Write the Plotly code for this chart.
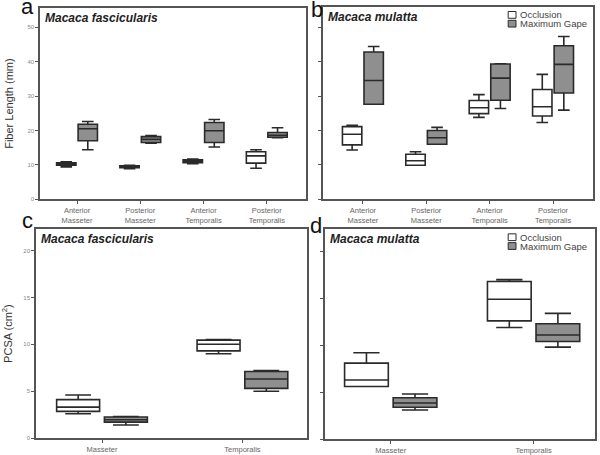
import plotly.graph_objects as go

# muscle categories
cats_fl = ["Anterior<br>Masseter", "Posterior<br>Masseter", "Anterior<br>Temporalis", "Posterior<br>Temporalis"]
cats_pcsa = ["Masseter", "Temporalis"]
groups = ["Occlusion", "Maximum Gape"]

# each row: [min, q1, median, q3, max]
fasc_fl_occ = [[9.4, 9.9, 10.3, 10.6, 10.9], [8.9, 9.2, 9.5, 9.7, 9.9],
               [10.3, 10.6, 11.0, 11.5, 11.7], [9.0, 10.5, 12.6, 13.8, 14.4]]
fasc_fl_gape = [[14.4, 17.0, 20.5, 21.8, 22.6], [16.3, 16.5, 17.4, 18.2, 18.5],
                [15.2, 16.5, 19.9, 22.3, 23.2], [17.9, 18.0, 18.6, 19.4, 20.8]]
mul_fl_occ = [[14.3, 15.8, 18.9, 21.1, 21.5], [9.9, 9.9, 11.2, 13.1, 13.8],
              [23.8, 24.9, 26.6, 28.7, 30.4], [22.3, 24.2, 26.9, 31.9, 36.3]]
mul_fl_gape = [[27.6, 27.6, 34.5, 42.8, 44.4], [16.0, 16.0, 17.9, 20.0, 20.9],
               [26.4, 28.8, 35.2, 39.3, 39.4], [25.9, 30.9, 39.2, 44.6, 47.3]]
fasc_pcsa_occ = [[2.6, 2.85, 3.3, 4.1, 4.6], [9.0, 9.3, 10.0, 10.45, 10.5]]
fasc_pcsa_gape = [[1.4, 1.7, 1.95, 2.25, 2.3], [5.0, 5.3, 6.3, 7.1, 7.2]]
mul_pcsa_occ = [[5.6, 5.6, 6.3, 8.1, 9.2], [11.9, 12.6, 14.9, 16.8, 17.0]]
mul_pcsa_gape = [[3.1, 3.4, 3.85, 4.4, 4.8], [9.8, 10.4, 11.1, 12.3, 13.4]]

OCC_FILL = "#ffffff"
GAPE_FILL = "#8f8f8f"
LINE = "#2a2a2a"
AXIS = "#555555"
FONT = "Liberation Sans, Arial, sans-serif"


def box(cats, stats, name, fill, xa, ya):
    return go.Box(
        x=cats, name=name,
        lowerfence=[s[0] for s in stats], q1=[s[1] for s in stats],
        median=[s[2] for s in stats], q3=[s[3] for s in stats],
        upperfence=[s[4] for s in stats],
        fillcolor=fill, line=dict(color=LINE, width=1.6),
        whiskerwidth=0.6, boxpoints=False,
        xaxis=xa, yaxis=ya, offsetgroup=name,
        showlegend=False, hoverinfo="skip")


fig = go.Figure()
fig.add_trace(box(cats_fl, fasc_fl_occ, groups[0], OCC_FILL, "x", "y"))
fig.add_trace(box(cats_fl, fasc_fl_gape, groups[1], GAPE_FILL, "x", "y"))
fig.add_trace(box(cats_fl, mul_fl_occ, groups[0], OCC_FILL, "x2", "y2"))
fig.add_trace(box(cats_fl, mul_fl_gape, groups[1], GAPE_FILL, "x2", "y2"))
fig.add_trace(box(cats_pcsa, fasc_pcsa_occ, groups[0], OCC_FILL, "x3", "y3"))
fig.add_trace(box(cats_pcsa, fasc_pcsa_gape, groups[1], GAPE_FILL, "x3", "y3"))
fig.add_trace(box(cats_pcsa, mul_pcsa_occ, groups[0], OCC_FILL, "x4", "y4"))
fig.add_trace(box(cats_pcsa, mul_pcsa_gape, groups[1], GAPE_FILL, "x4", "y4"))

xcommon = dict(type="category", showline=True, linecolor=AXIS, linewidth=1.5, mirror=True,
               ticks="outside", ticklen=3, tickcolor=AXIS, showgrid=False, zeroline=False,
               tickfont=dict(size=7.5, color="#666666", family=FONT))
ycommon = dict(showline=True, linecolor=AXIS, linewidth=1.5, mirror=True,
               ticks="outside", ticklen=3, tickcolor=AXIS, showgrid=False, zeroline=False,
               tickfont=dict(size=6, color="#888888", family=FONT))
ytitle_font = dict(size=11, color="#333333", family=FONT)

fig.update_layout(
    width=600, height=455, margin=dict(l=0, r=0, t=0, b=0),
    paper_bgcolor="white", plot_bgcolor="white",
    font=dict(family=FONT, color="#222222"),
    boxmode="group", boxgap=0.32, boxgroupgap=0.1, showlegend=False,
    xaxis=dict(xcommon, domain=[0.0667, 0.51], anchor="y", range=[-0.585, 3.62]),
    yaxis=dict(ycommon, domain=[0.5582, 0.9824], anchor="x", range=[0, 55.6], dtick=10,
               title=dict(text="Fiber Length (mm)", font=ytitle_font, standoff=12)),
    xaxis2=dict(xcommon, domain=[0.5383, 0.9883], anchor="y2", range=[-0.63, 3.63]),
    yaxis2=dict(ycommon, domain=[0.5582, 0.9846], anchor="x2", range=[0, 55.9], dtick=10,
                showticklabels=False),
    xaxis3=dict(xcommon, domain=[0.06, 0.5117], anchor="y3", range=[-0.47, 1.46]),
    yaxis3=dict(ycommon, domain=[0.0286, 0.4923], anchor="x3", range=[0, 22.3], dtick=5,
                title=dict(text="PCSA (cm<sup>2</sup>)", font=ytitle_font, standoff=12)),
    xaxis4=dict(xcommon, domain=[0.5417, 0.9917], anchor="y4", range=[-0.46, 1.43]),
    yaxis4=dict(ycommon, domain=[0.0264, 0.4923], anchor="x4", range=[0, 22.4], dtick=5,
                showticklabels=False),
)

# panel letters
for txt, x, y in [("a", 0.046, 0.985), ("b", 0.528, 0.978), ("c", 0.046, 0.51), ("d", 0.527, 0.5)]:
    fig.add_annotation(text=txt, xref="paper", yref="paper", x=x, y=y, xanchor="center",
                       yanchor="middle", showarrow=False, font=dict(size=22, color="#111111", family=FONT))

# species titles
for txt, xr, yr in [("Macaca fascicularis", "x domain", "y domain"), ("Macaca mulatta", "x2 domain", "y2 domain"),
                    ("Macaca fascicularis", "x3 domain", "y3 domain"), ("Macaca mulatta", "x4 domain", "y4 domain")]:
    fig.add_annotation(text="<b><i>" + txt + "</i></b>", xref=xr, yref=yr, x=0.012, y=0.995,
                       xanchor="left", yanchor="top", showarrow=False,
                       font=dict(size=12, color="#222222", family=FONT))

# legends (panels b and d)
for top in [0.967, 0.474]:
    for i, (name, fill) in enumerate(zip(groups, [OCC_FILL, GAPE_FILL])):
        yc = top - i * 0.0195
        fig.add_shape(type="rect", xref="paper", yref="paper", x0=0.847, x1=0.86,
                      y0=yc - 0.0075, y1=yc + 0.0075, fillcolor=fill,
                      line=dict(color=LINE, width=1))
        fig.add_annotation(text=name, xref="paper", yref="paper", x=0.864, y=yc,
                           xanchor="left", yanchor="middle", showarrow=False,
                           font=dict(size=9.5, color="#444444", family=FONT))

# drop the default page margin so the figure sits at the window's top-left corner
fig.write_html("out.html", config={"displayModeBar": False},
               post_script="document.body.style.margin='0';")
